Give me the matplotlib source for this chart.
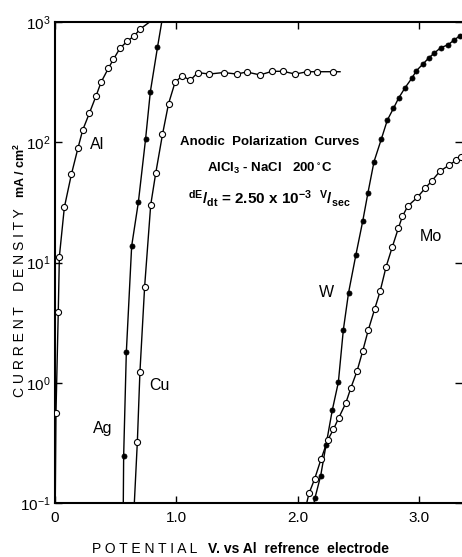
"""Anodic polarization curves in AlCl3-NaCl at 200 C, redrawn from the scanned figure."""
import matplotlib
matplotlib.use("Agg")
import matplotlib.pyplot as plt

plt.rcParams["font.family"] = ["Liberation Sans", "DejaVu Sans"]
plt.rcParams["mathtext.default"] = "regular"

# potential (V vs Al) and current density (mA/cm2)
al_v = [0.008, 0.027, 0.036, 0.077, 0.135, 0.19, 0.228, 0.283, 0.338, 0.38,
        0.44, 0.482, 0.535, 0.595, 0.655, 0.70]
al_i = [0.56, 3.9, 11.2, 28.7, 54, 90, 126, 174, 242, 316,
        412, 490, 603, 692, 769, 871]
al_ends = [(0.002, 0.1), (0.78, 1000)]

ag_v = [0.566, 0.588, 0.632, 0.687, 0.747, 0.786, 0.845]
ag_i = [0.247, 1.79, 13.7, 31.6, 107, 263, 617]
ag_ends = [(0.563, 0.1), (0.88, 1000)]

cu_v = [0.679, 0.70, 0.739, 0.789, 0.83, 0.886, 0.936, 0.99, 1.05, 1.115,
        1.177, 1.27, 1.39, 1.498, 1.58, 1.69, 1.79, 1.88, 1.98, 2.08,
        2.16, 2.29]
cu_i = [0.324, 1.22, 6.31, 30.1, 55, 116, 209, 316, 357, 327,
        380, 369, 380, 369, 384, 363, 389, 389, 369, 386,
        386, 386]
cu_ends = [(0.654, 0.1), (2.35, 386)]

w_v = [2.143, 2.19, 2.234, 2.286, 2.336, 2.377, 2.42, 2.48, 2.537, 2.58,
       2.63, 2.69, 2.74, 2.79, 2.834, 2.886, 2.94, 2.98, 3.036, 3.08,
       3.125, 3.18, 3.24, 3.29, 3.339]
w_i = [0.110, 0.168, 0.302, 0.592, 1.01, 2.75, 5.6, 11.5, 22.1, 38,
       69, 106, 153, 191, 234, 284, 339, 394, 450, 501,
       550, 611, 646, 708, 769]
w_ends = [(2.135, 0.1), (3.40, 810)]

mo_v = [2.094, 2.14, 2.193, 2.248, 2.295, 2.34, 2.397, 2.44, 2.49, 2.537,
        2.583, 2.635, 2.68, 2.73, 2.78, 2.83, 2.864, 2.908, 2.987, 3.05,
        3.105, 3.174, 3.25, 3.306, 3.347]
mo_i = [0.120, 0.158, 0.231, 0.333, 0.409, 0.513, 0.676, 0.912, 1.25, 1.84,
        2.75, 4.09, 5.75, 9.25, 13.4, 19.2, 24.2, 29.4, 34.8, 41.3,
        47.5, 57.5, 64.6, 70.8, 75.9]
mo_ends = [(2.075, 0.1), (3.40, 80)]

x_ticks = [0, 1, 2, 3]
x_tick_labels = ["0", "1.0", "2.0", "3.0"]
y_ticks = [0.1, 1, 10, 100, 1000]
y_tick_labels = [r"$10^{-1}$", r"$10^{0}$", r"$10^{1}$", r"$10^{2}$", r"$10^{3}$"]

W, H = 462, 557
fig = plt.figure(figsize=(W / 100, H / 100), dpi=100)
ax = fig.add_axes([55 / W, 54 / H, 407 / W, 481 / H])


def curve(v, i, ends, filled):
    lv = [ends[0][0]] + v + [ends[1][0]]
    li = [ends[0][1]] + i + [ends[1][1]]
    ax.plot(lv, li, color="black", lw=1.0, zorder=2)
    if filled:
        ax.plot(v, i, "o", ms=3.6, mfc="black", mec="black", mew=0.6, zorder=3)
    else:
        ax.plot(v, i, "o", ms=4.4, mfc="white", mec="black", mew=0.8, zorder=3)


curve(al_v, al_i, al_ends, False)
curve(ag_v, ag_i, ag_ends, True)
curve(cu_v, cu_i, cu_ends, False)
curve(w_v, w_i, w_ends, True)
curve(mo_v, mo_i, mo_ends, False)

ax.set_yscale("log")
ax.set_xlim(0, 407 / 121.3)
ax.set_ylim(0.1, 1000)
ax.set_xticks(x_ticks)
ax.set_xticklabels(x_tick_labels)
ax.set_yticks(y_ticks)
ax.set_yticklabels(y_tick_labels)
ax.minorticks_off()
ax.tick_params(axis="both", which="major", direction="in", length=5, width=1,
               top=True, right=True, labelsize=11)
ax.tick_params(axis="x", pad=6)
ax.tick_params(axis="y", pad=3)
for side in ["left", "bottom", "top"]:
    ax.spines[side].set_linewidth(1.5)
ax.spines["right"].set_visible(False)

# curve labels
for txt, x, y in [("Al", 0.35, 95), ("Ag", 0.39, 0.42), ("Cu", 0.86, 0.95),
                  ("W", 2.24, 5.6), ("Mo", 3.1, 16.6)]:
    ax.text(x, y, txt, fontsize=11.5, ha="center", va="center")

ax.text(1.77, 100, "Anodic  Polarization  Curves", fontsize=9.5,
        fontweight="bold", ha="center", va="center")
ax.text(1.77, 61, r"AlCl$_3$ - NaCl   200$^\circ$C", fontsize=9.5,
        fontweight="bold", ha="center", va="center")
ax.text(1.77, 34, r"$^{dE}/_{dt}$ = 2.50 x 10$^{-3}$  $^{V}/_{sec}$", fontsize=11,
        fontweight="bold", ha="center", va="center")

fig.text(20 / W, 1 - 303 / H, "C U R R E N T    D E N S I T Y", rotation=90,
         fontsize=10, ha="center", va="center")
fig.text(20 / W, 1 - 170 / H, r"mA / cm$^2$", rotation=90,
         fontsize=9, fontweight="bold", ha="center", va="center")
fig.text(92 / W, 1 - 549 / H, "P O T E N T I A L", fontsize=10,
         ha="left", va="center")
fig.text(208 / W, 1 - 549 / H, "V. vs Al  refrence  electrode", fontsize=10,
         fontweight="bold", ha="left", va="center")

fig.savefig("out.png", dpi=100)
